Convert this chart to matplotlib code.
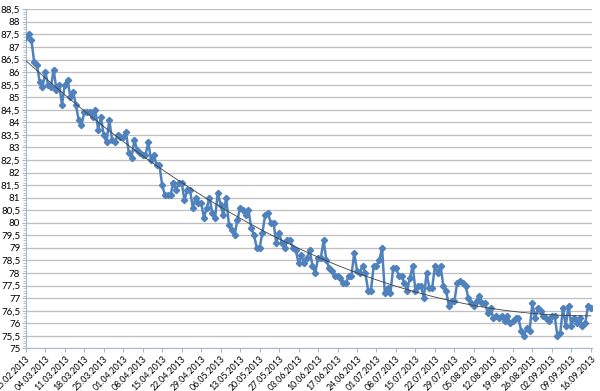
import numpy as np
import pandas as pd
import matplotlib
matplotlib.use("Agg")
import matplotlib.pyplot as plt
from matplotlib.ticker import MultipleLocator, FuncFormatter

plt.rcParams['font.family'] = ['Lato', 'DejaVu Sans']

start = "2013-02-25"

weight = [
    87.4, 87.5, 87.3, 86.4, 86.3, 85.6, 85.4, 86.0, 85.5, 85.4,
    86.1, 85.3, 85.5, 84.7, 85.5, 85.7, 85.0, 85.2, 84.7, 84.1,
    83.9, 84.4, 84.4, 84.4, 84.2, 84.5, 83.7, 84.2, 83.5, 83.2,
    84.1, 83.3, 83.2, 83.5, 83.4, 83.4, 83.6, 82.8, 82.6, 83.3,
    82.9, 82.8, 82.7, 82.7, 83.2, 82.5, 82.7, 82.3, 82.3, 81.5,
    81.1, 81.1, 81.1, 81.6, 81.3, 81.6, 81.6, 80.9, 81.3, 81.3,
    80.6, 81.0, 80.8, 80.8, 80.2, 80.6, 81.0, 80.4, 80.2, 81.2,
    80.7, 80.3, 81.0, 79.9, 79.7, 79.5, 80.1, 80.6, 80.5, 80.3,
    80.5, 79.8, 79.5, 79.0, 79.0, 79.6, 80.3, 80.4, 80.0, 80.0,
    79.2, 79.6, 79.2, 79.0, 79.3, 79.3, 79.0, 78.9, 78.4, 78.7,
    78.4, 78.6, 78.9, 78.3, 78.0, 78.6, 78.6, 79.3, 78.5, 78.2,
    78.1, 77.9, 77.9, 77.8, 77.6, 77.6, 77.9, 77.9, 78.8, 78.1,
    78.0, 78.3, 78.0, 77.3, 77.3, 78.3, 78.3, 78.5, 79.0, 77.2,
    77.4, 77.2, 78.2, 78.2, 77.9, 77.9, 77.6, 77.3, 77.8, 78.3,
    77.3, 77.5, 77.5, 77.0, 78.0, 77.4, 77.4, 78.3, 78.0, 78.3,
    77.5, 77.3, 76.7, 76.9, 76.9, 77.6, 77.7, 77.6, 77.5, 77.0,
    76.8, 76.7, 76.9, 77.1, 76.8, 76.8, 76.4, 76.6, 76.2, 76.3,
    76.2, 76.3, 76.1, 76.3, 76.0, 76.1, 76.2, 76.2, 75.7, 75.5,
    75.8, 75.7, 76.8, 76.2, 76.6, 76.5, 76.3, 76.2, 76.1, 76.3,
    76.3, 75.5, 75.6, 76.6, 75.9, 76.7, 75.9, 76.2, 76.0, 76.2,
    75.9, 76.0, 76.7, 76.6,
]

dates = pd.date_range(start, periods=len(weight), freq="D")
tick_dates = dates[::7]
tick_labels = [d.strftime("%d.%m.%Y") for d in tick_dates]

# polynomial trend line (order 2), as in the spreadsheet
days = np.arange(len(weight))
coef = np.polyfit(days, weight, 2)
trend = np.polyval(coef, days)

fig = plt.figure(figsize=(6.0, 3.91), dpi=100)
ax = fig.add_axes([0.043, 0.109, 0.944, 0.867])

ax.plot(dates, weight, color="#4F81BD", lw=1.8, marker="D", ms=3.2,
        mec="#4F81BD", mfc="#4F81BD", zorder=3)
ax.plot(dates, trend, color="#404040", lw=0.6, zorder=4)

ax.set_ylim(75, 88.5)
ax.set_xlim(dates[0], dates[-1] + pd.Timedelta(hours=12))
ax.yaxis.set_major_locator(MultipleLocator(0.5))
ax.yaxis.set_minor_locator(MultipleLocator(0.1))
ax.yaxis.set_major_formatter(FuncFormatter(
    lambda v, p: ("%g" % v).replace(".", ",")))
ax.grid(axis="y", color="#BFBFBF", lw=0.9)
ax.set_axisbelow(True)

ax.set_xticks(tick_dates)
ax.set_xticklabels(tick_labels, rotation=45, ha="right",
                   rotation_mode="anchor", fontsize=6.3)
ax.tick_params(axis="y", which="major", labelsize=7, length=3,
               color="#A6B8CC", pad=1)
ax.tick_params(axis="y", which="minor", length=2, color="#A6B8CC")
ax.tick_params(axis="x", length=3, color="#A6B8CC", pad=1)

for s in ("top", "right"):
    ax.spines[s].set_visible(False)
ax.spines["left"].set_color("#A6B8CC")
ax.spines["bottom"].set_color("#A6B8CC")

fig.savefig("out.png", dpi=100)
